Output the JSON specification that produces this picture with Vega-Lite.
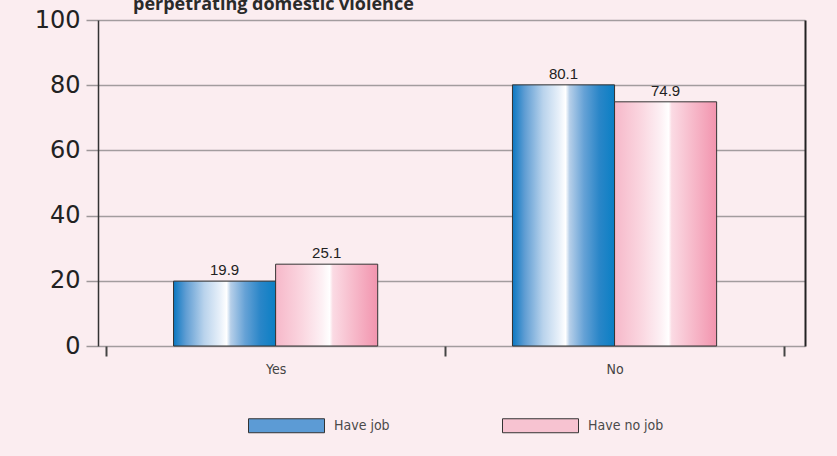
{
  "$schema": "https://vega.github.io/schema/vega-lite/v6.json",
  "width": 707,
  "height": 326,
  "autosize": {"type": "none"},
  "padding": {"left": 98, "top": 20, "right": 32, "bottom": 110},
  "background": "#fbedf0",
  "title": {
    "text": "perpetrating domestic violence",
    "anchor": "start",
    "frame": "group",
    "dx": 35,
    "offset": -6,
    "font": "Open Sans",
    "fontSize": 18,
    "fontWeight": "bold",
    "color": "#2a2a2a"
  },
  "config": {
    "view": {"stroke": null}
  },
  "data": {
    "values": [
      {"answer": "Yes", "series": "Have job", "value": 19.9},
      {"answer": "Yes", "series": "Have no job", "value": 25.1},
      {"answer": "No", "series": "Have job", "value": 80.1},
      {"answer": "No", "series": "Have no job", "value": 74.9}
    ]
  },
  "encoding": {
    "x": {
      "field": "answer",
      "type": "nominal",
      "sort": ["Yes", "No"],
      "scale": {"paddingInner": 0, "paddingOuter": 0.043, "align": 0.28},
      "axis": {
        "title": null,
        "labelAngle": 0,
        "labelFont": "DejaVu Sans Condensed, DejaVu Sans, sans-serif",
        "labelFontSize": 14,
        "labelColor": "#444444",
        "labelPadding": 6,
        "tickBand": "extent",
        "tickSize": 10,
        "tickWidth": 2,
        "tickColor": "#444444",
        "domain": false
      }
    },
    "xOffset": {
      "field": "series",
      "type": "nominal",
      "sort": ["Have job", "Have no job"],
      "scale": {"paddingInner": 0, "paddingOuter": 0.66}
    }
  },
  "layer": [
    {
      "mark": {"type": "bar", "stroke": "#333333", "strokeWidth": 1},
      "encoding": {
        "y": {
          "field": "value",
          "type": "quantitative",
          "scale": {"domain": [0, 100]},
          "axis": {
            "title": null,
            "values": [0, 20, 40, 60, 80, 100],
            "labelFont": "DejaVu Sans",
            "labelFontSize": 24,
            "labelColor": "#222222",
            "labelPadding": 6,
            "tickSize": 12,
            "tickColor": "#9c9698",
            "tickWidth": 1.5,
            "grid": true,
            "gridColor": "#a29c9e",
            "gridWidth": 1.5,
            "domainColor": "#333333",
            "domainWidth": 1.5
          }
        },
        "color": {
          "condition": {
            "test": "datum.series === 'Have job'",
            "value": {"gradient": "linear", "x1": 0, "y1": 0, "x2": 1, "y2": 0, "stops": [
              {"offset": 0, "color": "#0b78c2"},
              {"offset": 0.12, "color": "#5f9dd3"},
              {"offset": 0.3, "color": "#b9d3ec"},
              {"offset": 0.45, "color": "#e6eff9"},
              {"offset": 0.52, "color": "#ffffff"},
              {"offset": 0.56, "color": "#b6cfe9"},
              {"offset": 0.7, "color": "#66a2d6"},
              {"offset": 0.85, "color": "#2a86c8"},
              {"offset": 1, "color": "#0a7fc4"}
            ]}
          },
          "value": {"gradient": "linear", "x1": 0, "y1": 0, "x2": 1, "y2": 0, "stops": [
            {"offset": 0, "color": "#f6b8c9"},
            {"offset": 0.25, "color": "#fad5df"},
            {"offset": 0.45, "color": "#fdf0f4"},
            {"offset": 0.53, "color": "#ffffff"},
            {"offset": 0.56, "color": "#fbdbe4"},
            {"offset": 0.75, "color": "#f7bccc"},
            {"offset": 1, "color": "#f294ae"}
          ]}
        }
      }
    },
    {
      "mark": {"type": "bar", "opacity": 0},
      "encoding": {
        "y": {"field": "value", "type": "quantitative", "scale": {"domain": [0, 100]}, "axis": null},
        "color": {
          "field": "series",
          "type": "nominal",
          "sort": ["Have job", "Have no job"],
          "scale": {"domain": ["Have job", "Have no job"], "range": ["#5c9bd5", "#f7c3d1"]},
          "legend": {
            "orient": "none",
            "legendX": 150,
            "legendY": 367,
            "direction": "horizontal",
            "title": null,
            "symbolType": "M-1,-0.184H1V0.184H-1Z",
            "symbolSize": 5776,
            "symbolStrokeColor": "#333333",
            "symbolStrokeWidth": 1,
            "symbolOpacity": 1,
            "labelFont": "DejaVu Sans Condensed, DejaVu Sans, sans-serif",
            "labelFontSize": 14,
            "labelColor": "#4a4a4a",
            "labelOffset": 9,
            "columnPadding": 110
          }
        }
      }
    },
    {
      "mark": {"type": "text", "baseline": "alphabetic", "dy": -6, "font": "Liberation Sans", "fontSize": 15, "color": "#222222"},
      "encoding": {
        "text": {"field": "value", "type": "quantitative", "format": ".1f"},
        "y": {
          "field": "value",
          "type": "quantitative",
          "scale": {"domain": [0, 100]},
          "axis": {
            "orient": "right",
            "title": null,
            "labels": false,
            "ticks": false,
            "grid": false,
            "domainColor": "#222222",
            "domainWidth": 2
          }
        }
      }
    }
  ],
  "resolve": {"axis": {"y": "independent"}}
}
